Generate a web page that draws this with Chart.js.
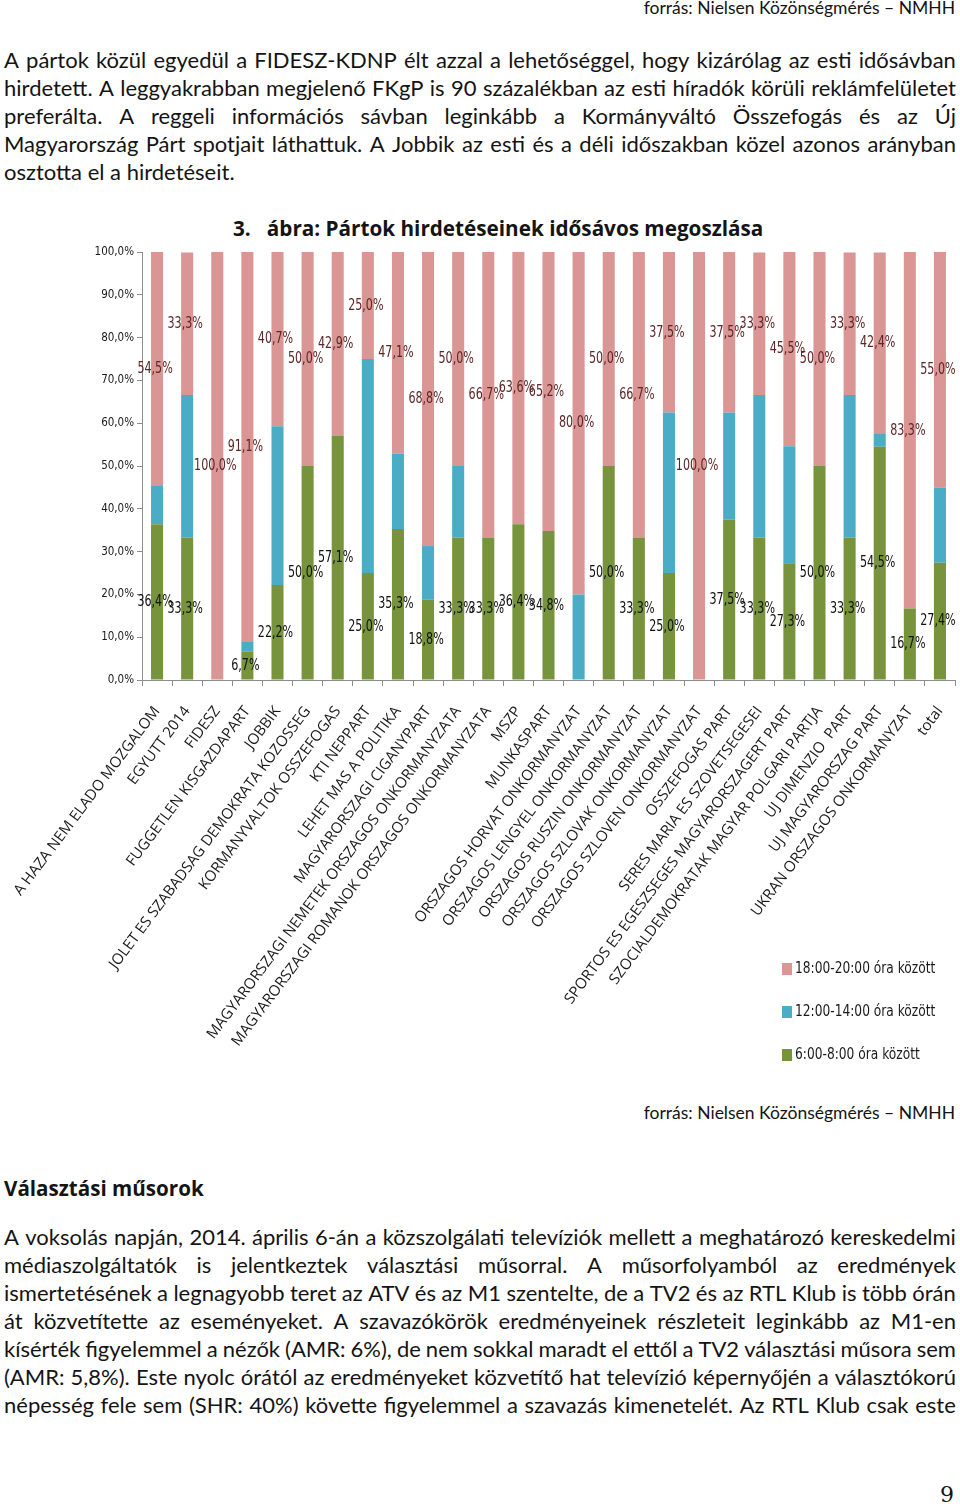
<!DOCTYPE html>
<html>
<head>
<meta charset="utf-8">
<script src="https://cdn.jsdelivr.net/npm/chart.js@4.4.1/dist/chart.umd.min.js"></script>
<style>
  body { margin: 0; width: 960px; height: 1508px; position: relative; background: #fff; color: #141414; font-family: Lato, "Noto Sans", sans-serif; overflow: hidden; }
  .src { position: absolute; right: 5px; font-size: 17.5px; line-height: 20px; white-space: nowrap; }
  .para { position: absolute; left: 4px; width: 952px; font-size: 22px; line-height: 28px; }
  .para div { display: flex; justify-content: space-between; white-space: nowrap; }
  .para div.last { display: block; }
  .title { position: absolute; left: 233px; top: 214px; font-family: "Open Sans", sans-serif; font-size: 20.7px; font-weight: 700; white-space: nowrap; }
  .heading { position: absolute; left: 4px; top: 1174px; font-family: "Open Sans", sans-serif; font-size: 20.6px; font-weight: 700; }
  .page { position: absolute; right: 6px; top: 1482px; font-family: "DejaVu Serif", "Liberation Serif", serif; font-size: 22px; }
  #chartBox { position: absolute; left: 0; top: 240px; width: 960px; height: 840px; }
</style>
</head>
<body>
<div class="src" style="top:-2px">forrás: Nielsen Közönségmérés – NMHH</div>

<div class="para" style="top:46px">
  <div>A pártok közül egyedül a FIDESZ-KDNP élt azzal a lehetőséggel, hogy kizárólag az esti idősávban</div>
  <div>hirdetett. A leggyakrabban megjelenő FKgP is 90 százalékban az esti híradók körüli reklámfelületet</div>
  <div>preferálta. A reggeli információs sávban leginkább a Kormányváltó Összefogás és az Új</div>
  <div>Magyarország Párt spotjait láthattuk. A Jobbik az esti és a déli időszakban közel azonos arányban</div>
  <div class="last">osztotta el a hirdetéseit.</div>
</div>

<div class="title">3.&nbsp;&nbsp; ábra: Pártok hirdetéseinek idősávos megoszlása</div>

<div id="chartBox"><canvas id="chart" width="960" height="840"></canvas></div>

<div class="src" style="top:1103px">forrás: Nielsen Közönségmérés – NMHH</div>

<div class="heading">Választási műsorok</div>

<div class="para" style="top:1223px">
  <div>A voksolás napján, 2014. április 6-án a közszolgálati televíziók mellett a meghatározó kereskedelmi</div>
  <div>médiaszolgáltatók is jelentkeztek választási műsorral. A műsorfolyamból az eredmények</div>
  <div>ismertetésének a legnagyobb teret az ATV és az M1 szentelte, de a TV2 és az RTL Klub is több órán</div>
  <div>át közvetítette az eseményeket. A szavazókörök eredményeinek részleteit leginkább az M1-en</div>
  <div>kísérték figyelemmel a nézők (AMR: 6%), de nem sokkal maradt el ettől a TV2 választási műsora sem</div>
  <div>(AMR: 5,8%). Este nyolc órától az eredményeket közvetítő hat televízió képernyőjén a választókorú</div>
  <div>népesség fele sem (SHR: 40%) követte figyelemmel a szavazás kimenetelét. Az RTL Klub csak este</div>
</div>

<div class="page">9</div>

<script>
const parties = [
  "A HAZA NEM ELADO MOZGALOM",
  "EGYUTT 2014",
  "FIDESZ",
  "FUGGETLEN KISGAZDAPART",
  "JOBBIK",
  "JOLET ES SZABADSAG DEMOKRATA KOZOSSEG",
  "KORMANYVALTOK OSSZEFOGAS",
  "KTI NEPPART",
  "LEHET MAS A POLITIKA",
  "MAGYARORSZAGI CIGANYPART",
  "MAGYARORSZAGI NEMETEK ORSZAGOS ONKORMANYZATA",
  "MAGYARORSZAGI ROMANOK ORSZAGOS ONKORMANYZATA",
  "MSZP",
  "MUNKASPART",
  "ORSZAGOS HORVAT ONKORMANYZAT",
  "ORSZAGOS LENGYEL ONKORMANYZAT",
  "ORSZAGOS RUSZIN ONKORMANYZAT",
  "ORSZAGOS SZLOVAK ONKORMANYZAT",
  "ORSZAGOS SZLOVEN ONKORMANYZAT",
  "OSSZEFOGAS PART",
  "SERES MARIA ES SZOVETSEGESEI",
  "SPORTOS ES EGESZSEGES MAGYARORSZAGERT PART",
  "SZOCIALDEMOKRATAK MAGYAR POLGARI PARTJA",
  "UJ DIMENZIO  PART",
  "UJ MAGYARORSZAG PART",
  "UKRAN ORSZAGOS ONKORMANYZAT",
  "total",
];

// 6:00-8:00
const morning = [36.4, 33.3, 0, 6.7, 22.2, 50.0, 57.1, 25.0, 35.3, 18.8, 33.3, 33.3, 36.4, 34.8, 0, 50.0, 33.3, 25.0, 0, 37.5, 33.3, 27.3, 50.0, 33.3, 54.5, 16.7, 27.4];
// 12:00-14:00
const noon = [9.1, 33.3, 0, 2.2, 37.1, 0, 0, 50.0, 17.6, 12.5, 16.7, 0, 0, 0, 20.0, 0, 0, 37.5, 0, 25.0, 33.3, 27.3, 0, 33.3, 3.0, 0, 17.6];
// 18:00-20:00
const evening = [54.5, 33.3, 100.0, 91.1, 40.7, 50.0, 42.9, 25.0, 47.1, 68.8, 50.0, 66.7, 63.6, 65.2, 80.0, 50.0, 66.7, 37.5, 100.0, 37.5, 33.3, 45.5, 50.0, 33.3, 42.4, 83.3, 55.0];

const seriesNames = ["6:00-8:00 óra között", "12:00-14:00 óra között", "18:00-20:00 óra között"];

const colors = {
  morning: "#77933c",
  noon: "#4bacc6",
  evening: "#d99694",
  axis: "#8c8c8c",
};

const narrow = "'Liberation Sans Narrow', 'DejaVu Sans Condensed', sans-serif";

// justify the paragraph lines word by word so breaks stay as in the print
document.querySelectorAll(".para div:not(.last)").forEach((line) => {
  const words = line.textContent.trim().split(/\s+/);
  line.textContent = "";
  words.forEach((word) => {
    const span = document.createElement("span");
    span.textContent = word;
    line.appendChild(span);
  });
});

function formatPct(value) {
  return `${value.toFixed(1).replace(".", ",")}%`;
}

// draws squeezed text, the print uses a condensed face
function drawCondensed(ctx, text, x, y, squeeze) {
  ctx.save();
  ctx.translate(x, y);
  ctx.scale(squeeze, 1);
  ctx.fillText(text, 0, 0);
  ctx.restore();
}

const segmentLabels = {
  id: "segmentLabels",
  afterDatasetsDraw(chart) {
    const { ctx } = chart;
    ctx.save();
    ctx.font = `16.5px ${narrow}`;
    ctx.textAlign = "center";
    ctx.textBaseline = "middle";
    chart.data.datasets.forEach((ds, di) => {
      if (!ds.labelColor) {
        return;
      }
      const meta = chart.getDatasetMeta(di);
      meta.data.forEach((bar, i) => {
        const value = ds.data[i];
        if (!value) {
          return;
        }
        ctx.fillStyle = ds.labelColor;
        drawCondensed(ctx, formatPct(value), bar.x - 2, (bar.y + bar.base) / 2, 0.75);
      });
    });
    ctx.restore();
  },
};

// legend stacked top-down: evening, noon, morning
const sideLegend = {
  id: "sideLegend",
  afterDraw(chart, _args, opts) {
    const { ctx } = chart;
    ctx.save();
    ctx.font = `16px ${narrow}`;
    ctx.textBaseline = "middle";
    ctx.textAlign = "left";
    const items = chart.data.datasets.slice().reverse();
    items.forEach((ds, i) => {
      const y = opts.top + i * opts.gap;
      ctx.fillStyle = ds.backgroundColor;
      ctx.fillRect(opts.left, y - 6, 10, 12);
      ctx.fillStyle = "#1a1a1a";
      drawCondensed(ctx, ds.label, opts.left + 13, y, 0.85);
    });
    ctx.restore();
  },
};

new Chart(document.getElementById("chart"), {
  type: "bar",
  plugins: [segmentLabels, sideLegend],
  data: {
    labels: parties,
    datasets: [
      { label: seriesNames[0], data: morning, backgroundColor: colors.morning, labelColor: "#111111" },
      { label: seriesNames[1], data: noon, backgroundColor: colors.noon },
      { label: seriesNames[2], data: evening, backgroundColor: colors.evening, labelColor: "#5e2626" },
    ],
  },
  options: {
    responsive: false,
    animation: false,
    devicePixelRatio: 1,
    layout: { padding: { top: 12, right: 5, left: 0, bottom: 0 } },
    datasets: {
      bar: { barPercentage: 0.4, categoryPercentage: 1.0 },
    },
    plugins: {
      legend: { display: false },
      tooltip: { enabled: false },
      sideLegend: { left: 782, top: 729, gap: 43 },
    },
    scales: {
      x: {
        stacked: true,
        afterFit: (scale) => {
          scale.height = 400;
          scale.paddingLeft = 0;
          scale.paddingRight = 0;
        },
        grid: { drawOnChartArea: false, offset: true, tickLength: 6, color: colors.axis },
        border: { color: colors.axis },
        ticks: {
          autoSkip: false,
          minRotation: 53,
          maxRotation: 53,
          padding: 17,
          color: "#1a1a1a",
          font: { family: "'Open Sans', sans-serif", size: 15 },
        },
      },
      y: {
        stacked: true,
        min: 0,
        max: 100,
        afterFit: (scale) => { scale.width = 142; },
        grid: { drawOnChartArea: false, tickLength: 5, color: colors.axis },
        border: { color: colors.axis },
        ticks: {
          stepSize: 10,
          padding: 3,
          color: "#1a1a1a",
          font: { family: narrow, size: 11.5 },
          callback: (value) => formatPct(value),
        },
      },
    },
  },
});
</script>
</body>
</html>
